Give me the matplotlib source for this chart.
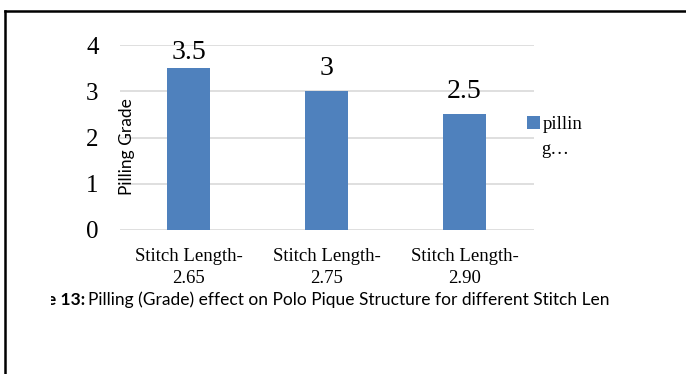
import matplotlib.pyplot as plt
from matplotlib.lines import Line2D
from matplotlib.transforms import Bbox, TransformedBbox

# Pilling grade per stitch length
categories = ["Stitch Length-\n2.65", "Stitch Length-\n2.75", "Stitch Length-\n2.90"]
pilling = [3.5, 3.0, 2.5]
value_labels = ["3.5", "3", "2.5"]
y_ticks = [0, 1, 2, 3, 4]
series_lines = ["pillin", "g…"]   # series name, wrapped and truncated

SERIF = "Liberation Serif"
SANS = "Lato"
BAR_COLOR = "#4F81BD"
GRID_COLOR = "#D9D9D9"

W, H = 686, 374
fig = plt.figure(figsize=(W / 100, H / 100), dpi=100)
fig.patch.set_facecolor("white")

ax = fig.add_axes([119.5 / W, 1 - 230 / H, 414 / W, 185 / H])
x = range(len(categories))
ax.bar(x, pilling, width=0.31, color=BAR_COLOR, label=series_lines[0], zorder=2)

# value labels above each bar, kept inside the plot area
for xi, v, txt in zip(x, pilling, value_labels):
    ax.text(xi, min(v + 0.35, 3.69), txt, ha="center", va="baseline",
            fontsize=20, family=SERIF, zorder=3)

ax.set_xlim(-0.5, len(categories) - 0.5)
ax.set_ylim(0, 4)
ax.set_yticks(y_ticks)
ax.set_yticklabels([str(t) for t in y_ticks], fontsize=18, family=SERIF)
ax.set_xticks(list(x))
ax.set_xticklabels(categories, fontsize=13.5, family=SERIF, linespacing=1.35)
ax.tick_params(axis="both", length=0)
ax.tick_params(axis="y", pad=15)
ax.tick_params(axis="x", pad=13)

ax.grid(axis="y", color=GRID_COLOR, linewidth=1.2, zorder=0)
for s in ax.spines.values():
    s.set_visible(False)
ax.set_facecolor("none")

ax.set_ylabel("Pilling Grade", fontsize=12.5, family=SANS)
ax.yaxis.set_label_coords(0.037, 0.45)

# legend: square marker on the first line, wrapped text below
leg = ax.legend(loc="upper left", bbox_to_anchor=(527 / W, 1 - 116 / H),
                bbox_transform=fig.transFigure, frameon=False,
                prop={"family": SERIF, "size": 13.5},
                handlelength=0.7, handleheight=0.7, handletextpad=0.15,
                borderpad=0, borderaxespad=0)
fig.text(541 / W, 1 - 149 / H, series_lines[1], ha="left", va="center",
         fontsize=13.5, family=SERIF)

# figure caption, cut off on the left
clip = TransformedBbox(Bbox([[51 / W, 0], [1, 1]]), fig.transFigure)
cap_y = 1 - 300 / H
t1 = fig.text(85 / W, cap_y, "Figure 13:", ha="right", va="center",
              fontsize=12.5, family=SANS, weight="bold")
t2 = fig.text(88 / W, cap_y,
              "Pilling (Grade) effect on Polo Pique Structure for different Stitch Len",
              ha="left", va="center", fontsize=12.5, family=SANS)
for t in (t1, t2):
    t.set_clip_box(clip)
    t.set_clip_on(True)

# outer frame (top and left edges)
fig.add_artist(Line2D([4.5 / W, 4.5 / W], [0, 1 - 10.5 / H],
                      transform=fig.transFigure, color="black", linewidth=1.8))
fig.add_artist(Line2D([4.5 / W, 1], [1 - 10.5 / H, 1 - 10.5 / H],
                      transform=fig.transFigure, color="black", linewidth=1.8))

fig.savefig("out.png", dpi=100)
